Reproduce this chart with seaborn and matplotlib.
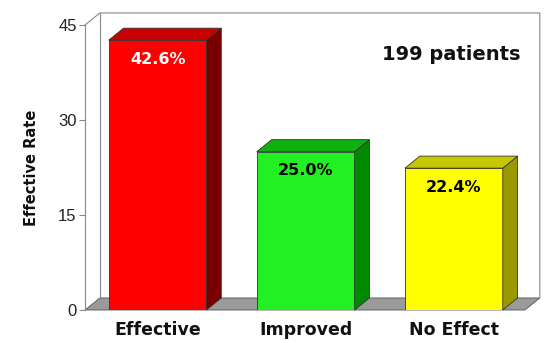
import matplotlib
matplotlib.use("Agg")

import numpy as np
import pandas as pd
import matplotlib.pyplot as plt
from matplotlib.patches import Polygon
import seaborn as sns

# dados do grafico
categorias = ["Effective", "Improved", "No Effect"]
taxas = [42.6, 25.0, 22.4]
rotulos = ["42.6%", "25.0%", "22.4%"]
cor_frente = ["#ff0000", "#22f022", "#ffff00"]
cor_lado = ["#7a0000", "#008a00", "#9a9a00"]
cor_topo = ["#c80000", "#10b010", "#c8c800"]
cor_texto = ["white", "black", "black"]
yticks = [0, 15, 30, 45]

sns.set_theme(style="white")

df = pd.DataFrame({"categoria": categorias, "taxa": taxas})

fig = plt.figure(figsize=(5.45, 3.43), dpi=100)
ax = fig.add_axes([85 / 545, 1 - 310 / 343, 440 / 545, 285 / 343])

sns.barplot(data=df, x="categoria", y="taxa", hue="categoria",
            palette=cor_frente, saturation=1, width=0.66, edgecolor="#333333",
            linewidth=0.6, legend=False, ax=ax, zorder=3)

ax.set_xlim(-0.49, 2.48)
ax.set_ylim(0, 45)

# profundidade "3D" em unidades de dados
dx, dy = 0.10, 1.9
x0, x1 = ax.get_xlim()

# parede do fundo e chao
ax.add_patch(Polygon([(x0, 0), (x0 + dx, dy), (x1 + dx, dy), (x1, 0)],
                     closed=True, facecolor="#9a9a9a", edgecolor="#555555",
                     linewidth=0.6, zorder=1, clip_on=False))
ax.plot([x0, x0 + dx, x1 + dx, x1 + dx], [45, 45 + dy, 45 + dy, dy],
        color="#888888", linewidth=0.8, zorder=1, clip_on=False)
ax.plot([x0 + dx, x0 + dx], [dy, 45 + dy], color="#888888",
        linewidth=0.8, zorder=1, clip_on=False)

# faces lateral e superior das barras
for barra, lado, topo, rot, cor_t in zip(ax.patches, cor_lado, cor_topo,
                                         rotulos, cor_texto):
    xa = barra.get_x()
    xb = xa + barra.get_width()
    h = barra.get_height()
    ax.add_patch(Polygon([(xb, 0), (xb + dx, dy), (xb + dx, h + dy), (xb, h)],
                         closed=True, facecolor=lado, edgecolor="#333333",
                         linewidth=0.6, zorder=3, clip_on=False))
    ax.add_patch(Polygon([(xa, h), (xa + dx, h + dy), (xb + dx, h + dy), (xb, h)],
                         closed=True, facecolor=topo, edgecolor="#333333",
                         linewidth=0.6, zorder=3, clip_on=False))
    ax.text(xa + barra.get_width() / 2, h - 3.0, rot, ha="center", va="center",
            fontsize=11.5, fontweight="bold", color=cor_t, zorder=5)

ax.text(1.98, 40.3, "199 patients", ha="center", va="center",
        fontsize=14, fontweight="bold", color="#111111")

for s in ["top", "right", "bottom"]:
    ax.spines[s].set_visible(False)
ax.spines["left"].set_color("#888888")
ax.spines["left"].set_linewidth(0.8)

ax.set_yticks(yticks)
ax.set_yticklabels([str(v) for v in yticks], fontsize=12, color="#222222",
                   family="Liberation Sans")
ax.tick_params(axis="y", length=4, width=0.8, color="#888888", left=True, pad=2)
ax.tick_params(axis="x", length=0, pad=8)
for t in ax.get_xticklabels():
    t.set_fontsize(12.5)
    t.set_fontweight("bold")
    t.set_color("#111111")
ax.set_xlabel("")
ax.set_ylabel("Effective Rate", fontsize=10.5, fontweight="bold",
              color="#111111", labelpad=14)

fig.savefig("out.png", dpi=100)
